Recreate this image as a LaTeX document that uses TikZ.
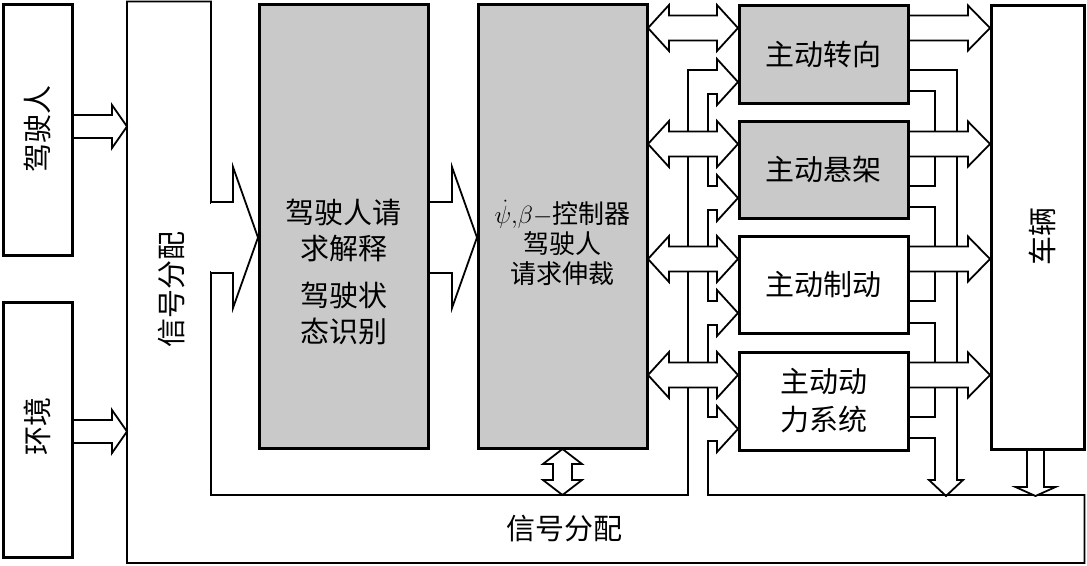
\documentclass[tikz,border=0pt]{standalone}
\usepackage{fontspec}
\setmainfont{Noto Sans CJK SC}
\usetikzlibrary{backgrounds}
% right-pointing block arrow, open tail: tail x, tip x, centre y, shaft half, head half, head length
\newcommand\blkR[6]{%
 \fill[white] (#1,{#3-#4}) -- ({#2-#6},{#3-#4}) -- ({#2-#6},{#3-#5}) -- (#2,#3) -- ({#2-#6},{#3+#5}) -- ({#2-#6},{#3+#4}) -- (#1,{#3+#4}) -- cycle;
 \draw[conn] (#1,{#3-#4}) -- ({#2-#6},{#3-#4}) -- ({#2-#6},{#3-#5}) -- (#2,#3) -- ({#2-#6},{#3+#5}) -- ({#2-#6},{#3+#4}) -- (#1,{#3+#4});}
% horizontal double block arrow: left tip, right tip, y, shaft half, head half, head length
\newcommand\blkLR[6]{%
 \draw[conn, fill=white] (#1,#3) -- ({#1+#6},{#3-#5}) -- ({#1+#6},{#3-#4}) -- ({#2-#6},{#3-#4}) -- ({#2-#6},{#3-#5}) -- (#2,#3) -- ({#2-#6},{#3+#5}) -- ({#2-#6},{#3+#4}) -- ({#1+#6},{#3+#4}) -- ({#1+#6},{#3+#5}) -- cycle;}
% vertical double block arrow: x, top tip, bottom tip, shaft half, head half, head length
\newcommand\blkUD[6]{%
 \draw[conn, fill=white] (#1,#2) -- ({#1+#5},{#2+#6}) -- ({#1+#4},{#2+#6}) -- ({#1+#4},{#3-#6}) -- ({#1+#5},{#3-#6}) -- (#1,#3) -- ({#1-#5},{#3-#6}) -- ({#1-#4},{#3-#6}) -- ({#1-#4},{#2+#6}) -- ({#1-#5},{#2+#6}) -- cycle;}
% downward block arrow, open tail: x, tail y, tip y, shaft half, head half, head length
\newcommand\blkD[6]{%
 \fill[white] ({#1-#4},#2) -- ({#1-#4},{#3-#6}) -- ({#1-#5},{#3-#6}) -- (#1,#3) -- ({#1+#5},{#3-#6}) -- ({#1+#4},{#3-#6}) -- ({#1+#4},#2) -- cycle;
 \draw[conn] ({#1-#4},#2) -- ({#1-#4},{#3-#6}) -- ({#1-#5},{#3-#6}) -- (#1,#3) -- ({#1+#5},{#3-#6}) -- ({#1+#4},{#3-#6}) -- ({#1+#4},#2);}
\begin{document}
\begin{tikzpicture}[x=1pt,y=-1pt,
  bx/.style={draw, line width=3pt, inner sep=0pt},
  gbx/.style={bx, fill=black!21},
  conn/.style={line width=1.8pt, line join=miter, miter limit=10},
  big/.style={font=\fontsize{29}{36}\selectfont, inner sep=0pt, align=center},
  sml/.style={font=\fontsize{26}{30}\selectfont, inner sep=0pt, align=center}]
\useasboundingbox (0,0) rectangle (1087,565);

% boxes
\node[bx, minimum width=69pt, minimum height=251pt] (drv) at (37.5,129.5) {};
\node[big, rotate=90] (drvt) at (37.5,129) {驾驶人};
\node[bx, minimum width=69pt, minimum height=255pt] (env) at (37.5,429.5) {};
\node[big, rotate=90] (envt) at (37.5,426) {环境};
\node[gbx, minimum width=169pt, minimum height=444pt] (req) at (343.5,226) {};
\node[big] (reqt) at (343.5,272) {驾驶人请\\求解释\\[11pt]驾驶状\\态识别};
\node[gbx, minimum width=169pt, minimum height=444pt] (ctrl) at (562.5,226) {};
\node[sml] (ctrlt) at (562.5,243) {{\fontsize{29}{30}\selectfont$\dot{\psi}{,}\beta{-}$}控制器\\驾驶人\\请求伸裁};
\node[gbx, big, minimum width=169pt, minimum height=98pt] (steer) at (823.5,54) {主动转向};
\node[gbx, big, minimum width=169pt, minimum height=97pt] (susp) at (823.5,169.5) {主动悬架};
\node[bx, big, fill=white, minimum width=169pt, minimum height=97pt] (brake) at (823.5,284.5) {主动制动};
\node[bx, big, fill=white, minimum width=169pt, minimum height=98pt, font=\fontsize{29}{38}\selectfont] (power) at (823.5,401) {主动动\\力系统};
\node[bx, fill=white, minimum width=93pt, minimum height=444pt] (veh) at (1037.5,227) {};
\node[big, rotate=90] (veht) at (1042,236) {车辆};
\node[big, rotate=90] (sigv) at (172,289) {信号分配};
\node[big] (sigh) at (564,529) {信号分配};

\begin{pgfonlayer}{background}
% signal distribution frame with its branch channel
\draw[conn, fill=white] (127,1.5) -- (211,1.5) -- (211,495) -- (688,495) -- (688,70)
  -- (717,70) -- (717,59) -- (738,82) -- (717,105) -- (717,94) -- (708,94)
  -- (708,186) -- (717,186) -- (717,175) -- (738,198) -- (717,221) -- (717,210) -- (708,210)
  -- (708,301) -- (717,301) -- (717,290) -- (738,313) -- (717,336) -- (717,325) -- (708,325)
  -- (708,417) -- (717,417) -- (717,406) -- (738,429) -- (717,452) -- (717,441) -- (708,441)
  -- (708,495) -- (1084.5,495) -- (1084.5,563) -- (127,563) -- cycle;
% feedback channel from actuators
\draw[conn] (909,70) -- (957,70) -- (957,480) -- (963,480) -- (946,496) -- (929,480) -- (935,480) -- (935,438) -- (909,438);
\draw[conn] (909,91) -- (935,91) -- (935,186) -- (909,186);
\draw[conn] (909,207) -- (935,207) -- (935,301) -- (909,301);
\draw[conn] (909,323) -- (935,323) -- (935,417) -- (909,417);
% inputs
\blkR{72}{127}{126.5}{11.5}{21.5}{15}
\blkR{72}{127}{431.5}{11.5}{21.5}{15}
\fill[white] (209,204) rectangle (214,271);
\blkR{211}{258}{237.5}{35.5}{70.5}{25}
\blkR{428}{477}{237.5}{35.5}{70.5}{25}
% controller <-> actuators, actuators -> vehicle
\foreach \c in {28,144,259,375} {
  \blkLR{648}{738}{\c}{12.5}{23}{21}
  \blkR{908}{990}{\c}{12.5}{22.5}{22}
}
\blkUD{562.5}{449}{495}{9.5}{19.5}{15}
\blkD{1035.5}{449}{496}{8.5}{20}{9}
\end{pgfonlayer}
\end{tikzpicture}
\end{document}
